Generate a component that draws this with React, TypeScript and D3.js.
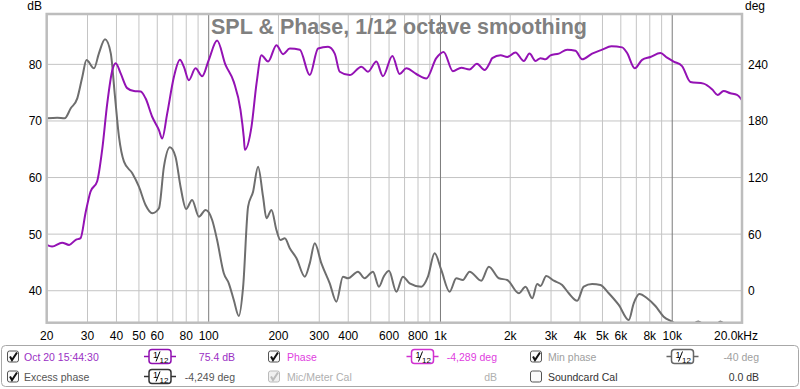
import * as d3 from "d3";

const splFreq = [20, 21.1, 23.3, 25, 26.7, 28, 29.4, 30.9, 33, 34.7, 36.5, 38.4, 39.7, 41.7, 44.5, 47.6, 50.9, 53.4, 57.1, 61, 63, 66.2, 70.8, 75.1, 78.1, 82.1, 87.7, 93.7, 100.1, 108.7, 118.2, 128.3, 137.2, 141.8, 143.2, 153, 160.8, 168.9, 180.4, 196, 209.4, 223.8, 247.2, 272.9, 296.4, 327.3, 349.8, 367.6, 405.8, 455.8, 486.6, 529, 564.8, 620, 666.6, 712.4, 786.6, 869, 959.4, 1032, 1131, 1230, 1335, 1436, 1550, 1629, 1673, 1817, 1941, 2108, 2290, 2422, 2571, 2702, 2840, 2984, 3240, 3522, 3825, 4086, 4512, 4984, 5466, 6080, 6388, 6890, 7414, 8050, 8890, 9500, 10146, 11026, 11974, 13664, 14854, 15700, 16662, 17808, 19030, 20000];
const splDb = [48.1, 47.8, 48.5, 48.1, 49.0, 49.3, 53.7, 57.5, 59.3, 64.9, 73.1, 79.0, 80.2, 78.4, 75.8, 75.3, 75.2, 74.0, 70.7, 68.4, 66.9, 71.3, 77.8, 80.8, 79.6, 77.2, 79.3, 77.9, 80.8, 84.2, 79.9, 76.9, 71.9, 67.0, 64.9, 69.0, 76.6, 81.6, 80.5, 83.4, 81.8, 82.8, 82.6, 78.1, 82.8, 83.1, 81.9, 78.7, 78.1, 79.6, 78.7, 80.5, 77.9, 81.5, 78.3, 79.3, 78.3, 77.5, 81.1, 82.2, 78.8, 79.4, 79.1, 80.1, 79.0, 80.2, 81.1, 81.6, 81.3, 82.1, 80.6, 81.9, 80.6, 81.1, 80.9, 81.6, 81.9, 82.6, 82.4, 80.9, 81.9, 82.6, 83.2, 83.0, 82.0, 79.3, 80.8, 81.3, 82.0, 81.2, 80.5, 79.7, 76.9, 76.6, 75.6, 74.6, 75.3, 74.9, 74.6, 73.7];

const phaseFreq = [20.1, 22.2, 23.9, 25.4, 27.1, 28.5, 29.7, 32, 33.6, 35.7, 37.8, 39.3, 41, 43.1, 46.8, 50, 53.4, 57.1, 61, 64.1, 68, 71.9, 75.6, 79.9, 84.8, 90.7, 96.9, 103.5, 108.7, 116.2, 122.1, 128.3, 134.9, 140.8, 147.9, 155.4, 163.3, 171.6, 177.5, 186.6, 196, 204, 213, 223.8, 239.2, 259.8, 272.9, 286.8, 306.4, 332.8, 355.6, 379.6, 399, 440.6, 471, 511.4, 542.8, 568.8, 599.4, 645.2, 688.8, 736.2, 827, 883, 943.6, 1008, 1095, 1170, 1249, 1335, 1500, 1617, 1786, 1941, 2178, 2328, 2488, 2614, 2702, 2860, 3084, 3350, 3578, 3890, 4152, 4512, 4900, 5322, 5878, 6490, 6820, 7216, 7790, 8460, 9184, 9984, 11000, 12000, 12960, 14000, 15000, 16120, 17500, 20000];
const phaseDeg = [182.8, 183.4, 182.8, 193.4, 204, 226.9, 244.6, 235.8, 251.7, 266.5, 251.7, 209.3, 163.3, 136.8, 124.5, 110.3, 90.9, 82.1, 87.4, 131.5, 152, 142, 110.3, 86.6, 96.2, 78.5, 85.6, 75, 53.8, 18.5, 7.9, -9.8, -26.8, 4.3, 89.1, 105, 131.5, 99.7, 76.8, 85.6, 64.4, 53.8, 55.6, 45, 34.4, 14.9, 29, 50.3, 29, 7.9, -11.6, 14.9, 13.2, 20.2, 13.2, 20.2, 4.3, 14.9, 21.2, -1, 14.9, 7.9, 4.3, 14.9, 39.7, 22, -1, 13.2, 11.4, 20.2, 10.6, 25.5, 13.2, 11.4, -2.7, 4.3, -8, 7.1, 5, 15.6, 10.6, 6.1, -2.7, -10.6, 4.3, 7.1, 6.1, -2.7, -15.1, -31, -13.3, -3.5, -8, -16.2, -27.5, -32.8, -38, -37, -32.5, -38, -40, -32.5, -39, -42];

const freqTicks = [20, 30, 40, 50, 60, 80, 100, 200, 300, 400, 600, 800, 1000, 2000, 3000, 4000, 5000, 6000, 8000, 10000];
const freqTickLabels = ["20", "30", "40", "50", "60", "80", "100", "200", "300", "400", "600", "800", "1k", "2k", "3k", "4k", "5k", "6k", "8k", "10k"];
const minorGrid = [30, 40, 50, 60, 70, 80, 90, 200, 300, 400, 500, 600, 700, 800, 900, 2000, 3000, 4000, 5000, 6000, 7000, 8000, 9000];
const majorGrid = [100, 1000, 10000];
const dbTicks = [40, 50, 60, 70, 80];
const degTicks = [0, 60, 120, 180, 240];

type LegendItem = { label: string; value: string; color: string; icon: string | null; check: "on" | "off" | "dim" };
const legendCol1: LegendItem[] = [
  { label: "Oct 20 15:44:30", value: "75.4 dB", color: "#9a30c4", icon: "#9010b0", check: "on" },
  { label: "Excess phase", value: "-4,249 deg", color: "#555", icon: "#333", check: "on" },
];
const legendCol2: LegendItem[] = [
  { label: "Phase", value: "-4,289 deg", color: "#e040e0", icon: "#d030d0", check: "on" },
  { label: "Mic/Meter Cal", value: "dB", color: "#b0b0b0", icon: null, check: "dim" },
];
const legendCol3: LegendItem[] = [
  { label: "Min phase", value: "-40 deg", color: "#a0a0a0", icon: "#666", check: "on" },
  { label: "Soundcard Cal", value: "0.0 dB", color: "#333", icon: null, check: "off" },
];

const W = 800;
const H = 389;
const left = 46.7;
const right = 742;
const top = 14;
const bottom = 322.7;
const font = "'Liberation Sans', Arial, sans-serif";

function SmoothIcon({ x, y, color }: { x: number; y: number; color: string }) {
  return (
    <g stroke={color} fill="none">
      <line x1={x} x2={x + 32} y1={y} y2={y} strokeWidth={1.5} />
      <rect x={x + 5} y={y - 7} width={22} height={14} rx={3} fill="white" strokeWidth={1.5} />
      <text x={x + 9} y={y + 1} fontSize={9} fill="#000" stroke="none" fontFamily={font}>1</text>
      <line x1={x + 12} y1={y + 5} x2={x + 16} y2={y - 5} stroke="#000" strokeWidth={1} />
      <text x={x + 15.5} y={y + 6} fontSize={8} fill="#000" stroke="none" fontFamily={font}>12</text>
    </g>
  );
}

function CheckBox({ x, y, state }: { x: number; y: number; state: "on" | "off" | "dim" }) {
  const stroke = state === "dim" ? "#bbb" : "#555";
  return (
    <g>
      <rect x={x + 0.5} y={y + 0.5} width={11} height={11} rx={2} fill={state === "dim" ? "#f0f0f0" : "#fafafa"} stroke={stroke} />
      {state !== "off" && (
        <path d={`M${x + 3},${y + 6} L${x + 5},${y + 9.5} L${x + 10},${y + 2}`} fill="none" stroke={state === "dim" ? "#bbb" : "#111"} strokeWidth={2} />
      )}
    </g>
  );
}

function LegendColumn({ items, cbX, textX, iconX, valueX }: { items: LegendItem[]; cbX: number; textX: number; iconX: number; valueX: number }) {
  return (
    <g fontFamily={font} fontSize={10.5}>
      {items.map((it, i) => {
        const cy = 356.5 + i * 20;
        return (
          <g key={it.label}>
            <CheckBox x={cbX} y={cy - 6} state={it.check} />
            <text x={textX} y={cy + 4} fill={it.color}>{it.label}</text>
            {it.icon && <SmoothIcon x={iconX} y={cy} color={it.icon} />}
            <text x={valueX} y={cy + 4} fill={it.color} textAnchor="end">{it.value}</text>
          </g>
        );
      })}
    </g>
  );
}

export default function App() {
  const x = d3.scaleLog().domain([20, 20000]).range([left, right]);
  const yDb = d3.scaleLinear().domain([34.35, 88.9]).range([bottom, top]);
  const yDeg = d3.scaleLinear().domain([-33.9, 293.4]).range([bottom, top]);

  const splLine = d3
    .line<number>()
    .x((_, i) => x(splFreq[i]))
    .y((d) => yDb(d))
    .curve(d3.curveMonotoneX);
  const phaseLine = d3
    .line<number>()
    .x((_, i) => x(phaseFreq[i]))
    .y((d) => yDeg(d))
    .curve(d3.curveMonotoneX);

  return (
    <svg width={W} height={H} style={{ position: "absolute", left: 0, top: 0, background: "white" }}>
      <defs>
        <clipPath id="plot">
          <rect x={left} y={top} width={right - left} height={bottom - top} />
        </clipPath>
      </defs>
      <g stroke="#c4c4c4" strokeWidth={1}>
        {minorGrid.map((f) => (
          <line key={f} x1={x(f)} x2={x(f)} y1={top} y2={bottom} />
        ))}
        {dbTicks.map((d) => (
          <line key={d} x1={left} x2={right} y1={yDb(d)} y2={yDb(d)} />
        ))}
      </g>
      <g stroke="#7a7a7a" strokeWidth={1}>
        {majorGrid.map((f) => (
          <line key={f} x1={x(f)} x2={x(f)} y1={top} y2={bottom} />
        ))}
      </g>
      <text x={211} y={34} fontFamily={font} fontWeight="bold" fontSize={21.5} fill="#808080">
        SPL &amp; Phase, 1/12 octave smoothing
      </text>
      <g clipPath="url(#plot)" fill="none" strokeLinejoin="round">
        <path d={phaseLine(phaseDeg) ?? ""} stroke="#6e6e6e" strokeWidth={2} />
        <path d={splLine(splDb) ?? ""} stroke="#9412b4" strokeWidth={2} />
      </g>
      <rect x={left} y={top} width={right - left} height={bottom - top} fill="none" stroke="#bdbdbd" strokeWidth={2.5} />
      <g fontFamily={font} fontSize={12} fill="#000">
        <text x={42} y={10} textAnchor="end">dB</text>
        <text x={745} y={10}>deg</text>
        {dbTicks.map((d) => (
          <text key={d} x={42} y={yDb(d) + 4.5} textAnchor="end">{d}</text>
        ))}
        {degTicks.map((d) => (
          <text key={d} x={748} y={yDeg(d) + 4.5}>{d}</text>
        ))}
        {freqTicks.map((f, i) => (
          <text key={f} x={x(f)} y={340} textAnchor="middle">{freqTickLabels[i]}</text>
        ))}
        <text x={758} y={340} textAnchor="end">20.0kHz</text>
      </g>
      <rect x={1.5} y={345.5} width={797} height={41} rx={4} fill="white" stroke="#a8a8a8" />
      <LegendColumn items={legendCol1} cbX={7} textX={24} iconX={144} valueX={235} />
      <LegendColumn items={legendCol2} cbX={268} textX={287} iconX={406.5} valueX={497} />
      <LegendColumn items={legendCol3} cbX={530} textX={548} iconX={666.5} valueX={759} />
    </svg>
  );
}
